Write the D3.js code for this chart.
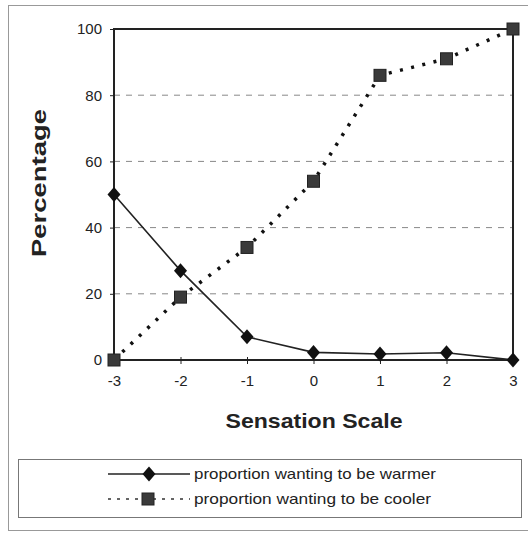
<!DOCTYPE html>
<html><head><meta charset="utf-8">
<script src="https://cdn.jsdelivr.net/npm/d3@7"></script>
<style>body{margin:0;background:#fff}svg{display:block}text{font-family:Arial,"Liberation Sans",sans-serif}</style>
</head><body>
<script>
const categories = [-3, -2, -1, 0, 1, 2, 3];
const warmer = [50, 27, 7, 2.3, 1.8, 2.2, 0];
const cooler = [0, 19, 34, 54, 86, 91, 100];
const yTicks = [0, 20, 40, 60, 80, 100];
const xTickLabels = ["-3", "-2", "-1", "0", "1", "2", "3"];
const seriesNames = ["proportion wanting to be warmer", "proportion wanting to be cooler"];

const W = 528, H = 533;
const svg = d3.select("body").append("svg").attr("width", W).attr("height", H);
svg.append("rect").attr("x", 8.5).attr("y", 5.5).attr("width", 520).attr("height", 525)
  .attr("fill", "#fff").attr("stroke", "#999").attr("stroke-width", 1);

const L = 114, R = 513, T = 29, B = 360;
const x = d3.scaleLinear().domain([-3, 3]).range([L, R]);
const y = d3.scaleLinear().domain([0, 100]).range([B, T]);

// gridlines
svg.append("g").selectAll("line").data(yTicks.filter(v => v > 0 && v < 100)).join("line")
  .attr("x1", L).attr("x2", R).attr("y1", d => y(d)).attr("y2", d => y(d))
  .attr("stroke", "#888").attr("stroke-width", 1).attr("stroke-dasharray", "6,6");

// frame
svg.append("rect").attr("x", L).attr("y", T).attr("width", R - L).attr("height", B - T)
  .attr("fill", "none").attr("stroke", "#222").attr("stroke-width", 2);

// axes
const yAxis = d3.axisLeft(y).tickValues(yTicks).tickSize(4).tickPadding(8);
const gy = svg.append("g").attr("transform", `translate(${L},0)`).call(yAxis);
gy.select(".domain").remove();
gy.selectAll("text").attr("font-size", 15).attr("fill", "#222");
gy.selectAll("line").attr("stroke", "#222");

const xAxis = d3.axisBottom(x).tickValues(categories).tickFormat((d, i) => xTickLabels[i]).tickSize(4).tickPadding(11);
const gx = svg.append("g").attr("transform", `translate(0,${B})`).call(xAxis);
gx.select(".domain").remove();
gx.selectAll("text").attr("font-size", 15).attr("fill", "#222");
gx.selectAll("line").attr("stroke", "#222").attr("y1", -3);

// titles
svg.append("text").attr("x", 314).attr("y", 428).attr("text-anchor", "middle")
  .attr("font-size", 21).attr("font-weight", "bold").attr("fill", "#222")
  .attr("textLength", 177).attr("lengthAdjust", "spacingAndGlyphs").text("Sensation Scale");
svg.append("text").attr("transform", "translate(46,183) rotate(-90)").attr("text-anchor", "middle")
  .attr("font-size", 21).attr("font-weight", "bold").attr("fill", "#222")
  .attr("textLength", 148).attr("lengthAdjust", "spacingAndGlyphs").text("Percentage");

// lines
const lineW = d3.line().x((d, i) => x(categories[i])).y(d => y(d));
svg.append("path").attr("d", lineW(cooler)).attr("fill", "none").attr("stroke", "#111")
  .attr("stroke-width", 3.5).attr("stroke-dasharray", "3,8.5");
svg.append("path").attr("d", lineW(warmer)).attr("fill", "none").attr("stroke", "#222")
  .attr("stroke-width", 1.6);

function drawDiamond(g, cx, cy) {
  g.append("path").attr("d", "M0,-7.5L6.5,0L0,7.5L-6.5,0Z").attr("transform", `translate(${cx},${cy})`)
    .attr("fill", "#111");
}
function drawSquare(g, cx, cy) {
  g.append("rect").attr("x", cx - 6).attr("y", cy - 6).attr("width", 12).attr("height", 12)
    .attr("fill", "#3a3a3a").attr("stroke", "#222").attr("stroke-width", 1);
}
const mk = svg.append("g");
cooler.forEach((v, i) => drawSquare(mk, x(categories[i]), y(v)));
warmer.forEach((v, i) => drawDiamond(mk, x(categories[i]), y(v)));

// legend
svg.append("rect").attr("x", 18.5).attr("y", 459.5).attr("width", 503).attr("height", 58)
  .attr("fill", "#fff").attr("stroke", "#777").attr("stroke-width", 1);
const lg = svg.append("g");
lg.append("line").attr("x1", 108).attr("x2", 190).attr("y1", 474).attr("y2", 474)
  .attr("stroke", "#222").attr("stroke-width", 1.6);
drawDiamond(lg, 149, 474);
lg.append("line").attr("x1", 108).attr("x2", 190).attr("y1", 499).attr("y2", 499)
  .attr("stroke", "#333").attr("stroke-width", 1.6).attr("stroke-dasharray", "3,6");
drawSquare(lg, 148, 499);
const legLens = [242, 237];
lg.selectAll("text").data(seriesNames).join("text")
  .attr("x", 194).attr("y", (d, i) => 479 + i * 25).attr("font-size", 15).attr("fill", "#222")
  .attr("textLength", (d, i) => legLens[i]).attr("lengthAdjust", "spacingAndGlyphs").text(d => d);
</script>
</body></html>
